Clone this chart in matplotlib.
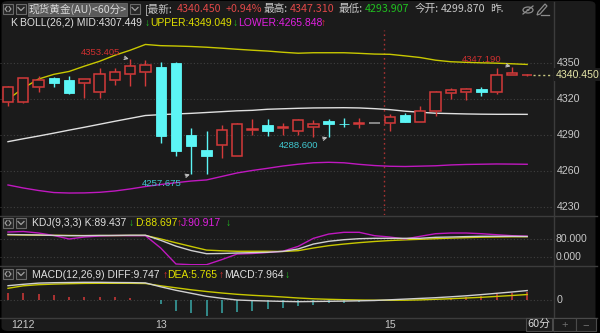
import matplotlib
matplotlib.use('Agg')
import matplotlib.pyplot as plt
from matplotlib import font_manager
from matplotlib.patches import Rectangle, FancyBboxPatch, Ellipse, Circle, Polygon
from matplotlib.lines import Line2D
import numpy as np

# ---------------- data ----------------
opens  = [4318.0, 4317.5, 4330.0, 4337.8, 4336.0, 4333.8, 4325.8, 4336.3, 4340.8, 4342.5,
          4346.7, 4350.0, 4290.2, 4277.8, 4281.9, 4273.0, 4294.8, 4298.8, 4296.3, 4293.8,
          4296.7, 4302.2, 4299.6, 4299.8, 4300.0, 4300.0, 4306.9, 4300.8, 4310.2, 4325.5,
          4326.3, 4328.3, 4325.8, 4340.3, 4340.3]
highs  = [4331.3, 4337.7, 4339.7, 4338.8, 4339.4, 4337.0, 4346.0, 4346.3, 4353.405, 4352.6,
          4350.8, 4350.8, 4296.4, 4293.8, 4298.6, 4300.0, 4303.6, 4303.6, 4300.0, 4303.6,
          4302.7, 4303.3, 4304.2, 4304.2, 4300.0, 4307.7, 4308.3, 4314.4, 4327.2, 4329.7,
          4329.7, 4330.3, 4345.8, 4347.19, 4341.5]
lows   = [4314.7, 4316.7, 4326.3, 4330.0, 4324.2, 4321.3, 4321.3, 4332.2, 4331.3, 4331.3,
          4283.3, 4273.0, 4257.675, 4257.9, 4270.8, 4273.0, 4290.3, 4289.7, 4290.3, 4290.2,
          4288.3, 4288.6, 4297.2, 4295.8, 4300.0, 4293.8, 4300.8, 4300.8, 4306.3, 4320.3,
          4319.4, 4323.0, 4324.2, 4340.3, 4339.8]
closes = [4330.0, 4337.5, 4336.0, 4333.8, 4325.0, 4337.0, 4341.3, 4342.5, 4347.5, 4348.6,
          4289.7, 4276.9, 4281.3, 4273.0, 4294.4, 4299.2, 4295.2, 4293.6, 4296.8, 4302.7,
          4299.2, 4299.4, 4299.3, 4300.2, 4300.0, 4305.5, 4300.8, 4310.2, 4325.8, 4327.8,
          4328.3, 4325.8, 4340.3, 4341.9, 4340.45]

boll_upper = [4320.0, 4329.3, 4336.9, 4340.8, 4343.2, 4347.6, 4351.7, 4356.7, 4360.9, 4365.7,
              4364.7, 4364.4, 4364.0, 4363.4, 4362.6, 4361.7, 4360.9, 4360.2, 4359.2, 4358.4,
              4358.8, 4358.8, 4358.8, 4358.3, 4357.7, 4357.5, 4356.2, 4354.8, 4352.6, 4351.3,
              4350.8, 4350.4, 4350.1, 4349.6, 4349.049]
boll_mid   = [4284.7, 4287.1, 4289.4, 4291.8, 4294.3, 4296.7, 4299.2, 4301.7, 4304.1, 4306.5,
              4307.2, 4307.8, 4308.3, 4309.0, 4309.7, 4310.4, 4310.8, 4311.7, 4312.1, 4312.5,
              4312.8, 4312.9, 4313.0, 4312.8, 4312.2, 4311.4, 4310.1, 4309.2, 4308.4, 4308.1,
              4307.8, 4307.6, 4307.5, 4307.5, 4307.449]
boll_lower = [4248.6, 4246.1, 4244.0, 4242.3, 4241.9, 4242.0, 4242.5, 4243.6, 4245.3, 4247.3,
              4249.0, 4250.5, 4251.9, 4252.8, 4255.7, 4258.6, 4260.7, 4262.5, 4264.4, 4265.9,
              4267.1, 4267.5, 4267.1, 4265.8, 4264.8, 4264.2, 4264.0, 4264.3, 4264.6, 4265.3,
              4265.7, 4265.9, 4266.1, 4266.0, 4265.848]

kdj_k = [98.0, 97.0, 96.0, 94.0, 93.0, 93.0, 94.0, 94.0, 95.0, 95.0,
         73.0, 48.0, 29.0, 15.5, 16.3, 18.5, 20.0, 21.5, 25.5, 35.7,
         57.0, 68.8, 75.7, 80.0, 81.7, 81.7, 81.7, 81.7, 86.0, 87.3,
         89.0, 90.3, 90.3, 90.3, 89.437]
kdj_d = [97.0, 96.0, 95.0, 94.5, 94.0, 93.5, 93.5, 93.5, 94.0, 94.0,
         79.0, 62.4, 46.5, 31.0, 28.0, 26.0, 26.0, 26.0, 25.0, 28.5,
         40.0, 50.0, 57.0, 63.0, 68.0, 72.0, 75.0, 77.5, 80.0, 82.5,
         84.5, 86.5, 87.5, 88.3, 88.697]
kdj_j = [108.8, 111.0, 104.5, 93.8, 78.7, 87.3, 91.6, 93.8, 93.0, 93.0,
         40.0, -28.8, -31.8, -31.8, -10.0, 14.0, 16.3, 20.6, 26.0, 47.0,
         81.6, 100.0, 107.5, 107.5, 93.0, 87.3, 78.7, 90.3, 101.5, 104.5,
         104.5, 101.5, 97.0, 93.0, 90.917]

macd_diff = [14.6, 16.0, 17.2, 17.6, 17.8, 18.0, 18.0, 17.8, 17.7, 17.4,
             13.5, 10.0, 7.0, 4.0, 2.0, 0.3, -0.3, -0.7, -1.1, -1.4,
             -1.2, -1.0, -0.8, -0.5, -0.2, 0.5, 1.2, 1.9, 2.6, 3.5,
             4.5, 5.7, 7.0, 8.3, 9.747]
macd_dea  = [12.0, 14.5, 15.6, 16.2, 16.6, 16.9, 17.0, 17.0, 17.0, 16.8,
             14.5, 12.5, 10.5, 8.8, 7.3, 6.0, 5.0, 4.2, 3.3, 2.3,
             1.5, 1.0, 0.6, 0.3, 0.1, 0.0, 0.1, 0.4, 1.0, 1.6,
             2.3, 3.0, 3.9, 4.8, 5.765]
macd_hist = [7.0, 7.0, 6.0, 5.3, 3.6, 3.3, 3.0, 3.6, 2.6, 0.5,
             -4.0, -10.7, -13.0, -15.7, -13.0, -12.0, -10.7, -8.7, -7.7, -5.4,
             -4.4, -2.7, -2.7, -1.7, -1.0, -0.3, 0.2, 0.8, 1.6, 2.3,
             3.3, 4.6, 6.3, 7.3, 7.964]

x_tick_idx = [1, 10, 25]
x_tick_labels = ['1212', '13', '15']
price_ticks = [4350, 4320, 4290, 4260, 4230]
kdj_ticks = [80, 0]
last_price = 4340.450
annot_high_idx = [8, 33]
annot_low_idx = [12, 21]

# ---------------- style ----------------
BG = '#1b1b1b'
GRID = '#404040'
SEP = '#3c3c3c'
RED = '#d43a3a'
CYAN = '#5cf5f5'
HIST_CYAN = '#3aa8a8'
YEL = '#c8c800'
MAG = '#c018c0'
WHT = '#d0d0d0'
TXT = '#c8c8c8'
GRN = '#20c020'

names = {f.name for f in font_manager.fontManager.ttflist}
NARROW = 'Liberation Sans Narrow' in names
LAT = 'Liberation Sans Narrow' if NARROW else 'Liberation Sans'
SC = 1.0 / 0.82 if NARROW else 1.0
LATF = [LAT, 'DejaVu Sans']
CJK = ['Noto Sans CJK SC', 'DejaVu Sans']

W, H = 600, 333
fig = plt.figure(figsize=(6, 3.33), dpi=100, facecolor='#000000')

def fx(x):
    return x / W

def fy(y):
    return 1 - y / H

# rounded background frame (drawn beneath everything)
fig.patches.append(FancyBboxPatch((fx(1.5), fy(331)), fx(595.5) - fx(1.5), fy(1) - fy(331),
                                  boxstyle='round,pad=0,rounding_size=0.012',
                                  transform=fig.transFigure, facecolor=BG, edgecolor='none', zorder=-10))

n = len(opens)
idx = np.arange(n)
XL, XR = -8 / 15.27, (553 - 8) / 15.27

def make_ax(y0, y1):
    a = fig.add_axes([0, fy(y1), 553 / W, (y1 - y0) / H])
    a.set_facecolor('none')
    a.patch.set_alpha(0)
    for s in a.spines.values():
        s.set_visible(False)
    a.set_xticks([])
    a.set_yticks([])
    a.set_xlim(XL, XR)
    a.set_zorder(2)
    return a

# ---------------- main panel ----------------
ax = make_ax(0, 215)
ax.set_ylim(4350 - (215 - 63.3) / 1.2, 4350 + 63.3 / 1.2)
for p in price_ticks:
    ax.axhline(p, color=GRID, lw=0.8, ls=(0, (1, 2)), zorder=1)

ax.axvline(24.6, ymin=0, ymax=(215 - 30) / 215, color='#a83232', lw=1.0, ls=(0, (1.2, 2.2)), zorder=1)

ax.plot(idx, boll_upper, color=YEL, lw=1.0, zorder=2)
ax.plot(idx, boll_mid, color='#e0e0e0', lw=1.0, zorder=2)
ax.plot(idx, boll_lower, color=MAG, lw=1.0, zorder=2)

bw = 0.68
for i in range(n):
    o, h, l, c = opens[i], highs[i], lows[i], closes[i]
    if c > o:
        ax.vlines(i, max(o, c), h, color=RED, lw=1.0, zorder=3)
        ax.vlines(i, l, min(o, c), color=RED, lw=1.0, zorder=3)
        ax.bar(i, max(c - o, 0.25), bottom=o, width=bw, facecolor=BG, edgecolor=RED, lw=1.1, zorder=4)
    elif c < o:
        ax.vlines(i, l, h, color=CYAN, lw=1.0, zorder=3)
        ax.bar(i, max(o - c, 0.5), bottom=c, width=bw, facecolor=CYAN, edgecolor=CYAN, lw=0.6, zorder=4)
    else:
        ax.hlines(c, i - bw / 2, i + bw / 2, color='#9a9a9a', lw=1.2, zorder=4)

# extreme annotations
for i in annot_high_idx:
    ax.annotate(f'{highs[i]:.3f}', xy=(i, highs[i]), xytext=(-10, 7), textcoords='offset pixels',
                ha='right', va='center', color='#d03030', fontsize=6.8 * SC, family=LATF,
                arrowprops=dict(arrowstyle='->', color='#c0c0c0', lw=0.8, shrinkA=1, shrinkB=1,
                                mutation_scale=6), zorder=6)
for i in annot_low_idx:
    ax.annotate(f'{lows[i]:.3f}', xy=(i, lows[i]), xytext=(-10, -9), textcoords='offset pixels',
                ha='right', va='center', color='#40c8d0', fontsize=6.8 * SC, family=LATF,
                arrowprops=dict(arrowstyle='->', color='#c0c0c0', lw=0.8, shrinkA=1, shrinkB=1,
                                mutation_scale=6), zorder=6)

# last price dotted line
ax.hlines(last_price, n - 1 + 0.4, XR, color='#c8c880', lw=1.0, ls=(0, (1.5, 2)), zorder=3)

# ---------------- KDJ panel ----------------
ak = make_ax(216, 265)
ak.set_ylim(80 - (265 - 238.7) / 0.2325, 80 + (238.7 - 216) / 0.2325)
for v in kdj_ticks:
    ak.axhline(v, color=GRID, lw=0.8, ls=(0, (1, 2)))
ak.plot(idx, kdj_d, color=YEL, lw=1.0, zorder=2)
ak.plot(idx, kdj_k, color=WHT, lw=1.0, zorder=3)
ak.plot(idx, kdj_j, color=MAG, lw=1.0, zorder=2)

# ---------------- MACD panel ----------------
am = make_ax(266, 317)
am.set_ylim(-(317 - 300.3), 300.3 - 266)
am.axhline(0, color=GRID, lw=0.8, ls=(0, (1, 2)))
hcol = [RED if v >= 0 else HIST_CYAN for v in macd_hist]
am.vlines(idx, 0, macd_hist, colors=hcol, lw=1.1, zorder=2)
am.plot(idx, macd_dea, color=YEL, lw=1.0, zorder=3)
am.plot(idx, macd_diff, color=WHT, lw=1.0, zorder=4)
am.set_xticks(x_tick_idx)
am.set_xticklabels(x_tick_labels, color=TXT, fontsize=7.6 * SC, family=LATF)
am.tick_params(axis='x', length=0, pad=2.5)

# ---------------- separators ----------------
def hline(y, x0=0, x1=597, c=SEP, lw=1.0):
    fig.add_artist(Line2D([fx(x0), fx(x1)], [fy(y), fy(y)], color=c, lw=lw, transform=fig.transFigure))

def vline(x, y0, y1, c=SEP, lw=1.0):
    fig.add_artist(Line2D([fx(x), fx(x)], [fy(y0), fy(y1)], color=c, lw=lw, transform=fig.transFigure))

hline(215.5)
hline(265.5)
hline(317.5)
vline(553.5, 2, 331)

# ---------------- right axis labels ----------------
def ptoy(p):
    return 63.3 + (4350 - p) * 1.2

for p in price_ticks:
    fig.text(fx(557), fy(ptoy(p)), f'{p}', color=TXT, fontsize=7.7 * SC, family=LATF, ha='left', va='center')
fig.text(fx(556), fy(ptoy(last_price)), f'{last_price:.3f}', color='#e6e6a8', fontsize=7.6 * SC,
         family=LATF, ha='left', va='center',
         bbox=dict(boxstyle='square,pad=0.15', facecolor=BG, edgecolor='none'))
for v in kdj_ticks:
    yy = 238.7 + (80 - v) * 0.2325
    fig.text(fx(556), fy(yy), f'{v:.3f}', color=TXT, fontsize=7.5 * SC, family=LATF, ha='left', va='center')
fig.text(fx(557), fy(300.3), '0', color=TXT, fontsize=7.7 * SC, family=LATF, ha='left', va='center')

# ---------------- header texts ----------------
def t(x, y, s, c, fs, fam, **kw):
    fig.text(fx(x), fy(y), s, color=c, fontsize=fs, family=fam, ha='left', va='center', zorder=5, **kw)

def icon_box(x0, y0, w=10, h=10):
    fig.patches.append(Rectangle((fx(x0), fy(y0 + h)), w / W, h / H, transform=fig.transFigure,
                                 facecolor='#262626', edgecolor='#6a6a6a', lw=0.8, zorder=3))

def chevron(xc, yc, c='#a0a0a0'):
    fig.add_artist(Line2D([fx(xc - 3), fx(xc), fx(xc + 3)], [fy(yc - 1.5), fy(yc + 1.5), fy(yc - 1.5)],
                          color=c, lw=0.9, transform=fig.transFigure, zorder=4))

def brackets(xc, yc, c='#a0a0a0'):
    fig.add_artist(Line2D([fx(xc - 1), fx(xc - 3), fx(xc - 1)], [fy(yc - 2.5), fy(yc), fy(yc + 2.5)],
                          color=c, lw=0.8, transform=fig.transFigure, zorder=4))
    fig.add_artist(Line2D([fx(xc + 1), fx(xc + 3), fx(xc + 1)], [fy(yc - 2.5), fy(yc), fy(yc + 2.5)],
                          color=c, lw=0.8, transform=fig.transFigure, zorder=4))

# row 1
icon_box(3, 4); brackets(8, 9)
icon_box(16, 4); chevron(21, 9)
fig.patches.append(Rectangle((fx(28), fy(16)), 99 / W, 13 / H, transform=fig.transFigure,
                             facecolor='#5a5a5a', edgecolor='#6a6a6a', lw=0.6, zorder=3))
t(29, 9.3, '现货黄金(AU)<60分>', '#d8d8d8', 7.7, CJK)
icon_box(130, 4); chevron(135, 9)
row1 = [(145, '[最新:', TXT), (177, '4340.450', '#e04848'), (226, '+0.94%', '#e04848'),
        (264, '最高:', TXT), (290, '4347.310', '#e04848'), (339, '最低:', TXT),
        (365, '4293.907', GRN), (415, '今开:', TXT), (441, '4299.870', TXT), (490, '昨.', TXT)]
for x, s, c in row1:
    t(x, 9.3, s, c, 7.7, CJK)

# eye and pencil icons
ICON = '#8c8c8c'
fig.patches.append(Ellipse((fx(528), fy(10)), 10 / W, 6 / H, transform=fig.transFigure,
                           facecolor='none', edgecolor=ICON, lw=0.9, zorder=3))
fig.patches.append(Circle((fx(528), fy(10)), 1.6 / W, transform=fig.transFigure, facecolor=ICON,
                          edgecolor='none', zorder=3))
fig.add_artist(Line2D([fx(523), fx(533)], [fy(14), fy(6)], color=ICON, lw=0.9, transform=fig.transFigure, zorder=4))
fig.patches.append(Polygon([(fx(537), fy(15)), (fx(538), fy(12)), (fx(545), fy(4)), (fx(547), fy(6)),
                            (fx(540), fy(14))], closed=True, transform=fig.transFigure,
                           facecolor='none', edgecolor=ICON, lw=0.9, zorder=3))
fig.add_artist(Line2D([fx(541), fx(549)], [fy(15), fy(15)], color=ICON, lw=0.9, transform=fig.transFigure, zorder=4))

# row 2 (BOLL)
FS2 = 7.5 * SC
t(10, 23, 'K', '#e0e0e0', FS2, LATF)
t(20, 23, 'BOLL(26,2) MID:4307.449', '#e0e0e0', FS2, LATF)
t(145, 23, '↓', GRN, FS2, LATF)
t(150, 23, 'UPPER:4349.049', '#e0e000', FS2, LATF)
t(233, 23, '↓', GRN, FS2, LATF)
t(238, 23, 'LOWER:4265.848', '#e020e0', FS2, LATF)
t(321, 23, '↑', '#e03030', FS2, LATF)

# KDJ header
icon_box(3, 218); brackets(8, 223)
icon_box(16, 218); chevron(21, 223)
t(32, 222.5, 'KDJ(9,3,3) K:89.437', '#e0e0e0', FS2, LATF)
t(129, 222.5, '↓', GRN, FS2, LATF)
t(135, 222.5, 'D:88.697', '#e0e000', FS2, LATF)
t(177, 222.5, '↑', '#e03030', FS2, LATF)
t(181, 222.5, 'J:90.917', '#e020e0', FS2, LATF)
t(226, 222.5, '↓', GRN, FS2, LATF)

# MACD header
icon_box(3, 269); brackets(8, 274)
icon_box(16, 269); chevron(21, 274)
t(32, 274.5, 'MACD(12,26,9) DIFF:9.747', '#e0e0e0', FS2, LATF)
t(163, 274.5, '↑', '#e03030', FS2, LATF)
t(167, 274.5, 'DEA:5.765', '#e0e000', FS2, LATF)
t(219, 274.5, '↑', '#e03030', FS2, LATF)
t(224, 274.5, 'MACD:7.964', '#e0e0e0', FS2, LATF)
t(285, 274.5, '↓', GRN, FS2, LATF)

# bottom right controls
for x0, x1 in [(526, 552), (553, 576), (576, 596)]:
    fig.patches.append(Rectangle((fx(x0), fy(331)), (x1 - x0) / W, 13.5 / H, transform=fig.transFigure,
                                 facecolor=BG, edgecolor='#4a4a4a', lw=0.8, zorder=3))
fig.text(fx(539), fy(325), '60分', color='#d8d8d8', fontsize=7.8, family=CJK, ha='center', va='center', zorder=5)
fig.text(fx(564.5), fy(325), '+', color='#707070', fontsize=8, family=LATF, ha='center', va='center', zorder=5)
fig.text(fx(586), fy(325), '−', color='#707070', fontsize=8, family=LATF, ha='center', va='center', zorder=5)

fig.savefig('out.png', dpi=100, facecolor=fig.get_facecolor())
